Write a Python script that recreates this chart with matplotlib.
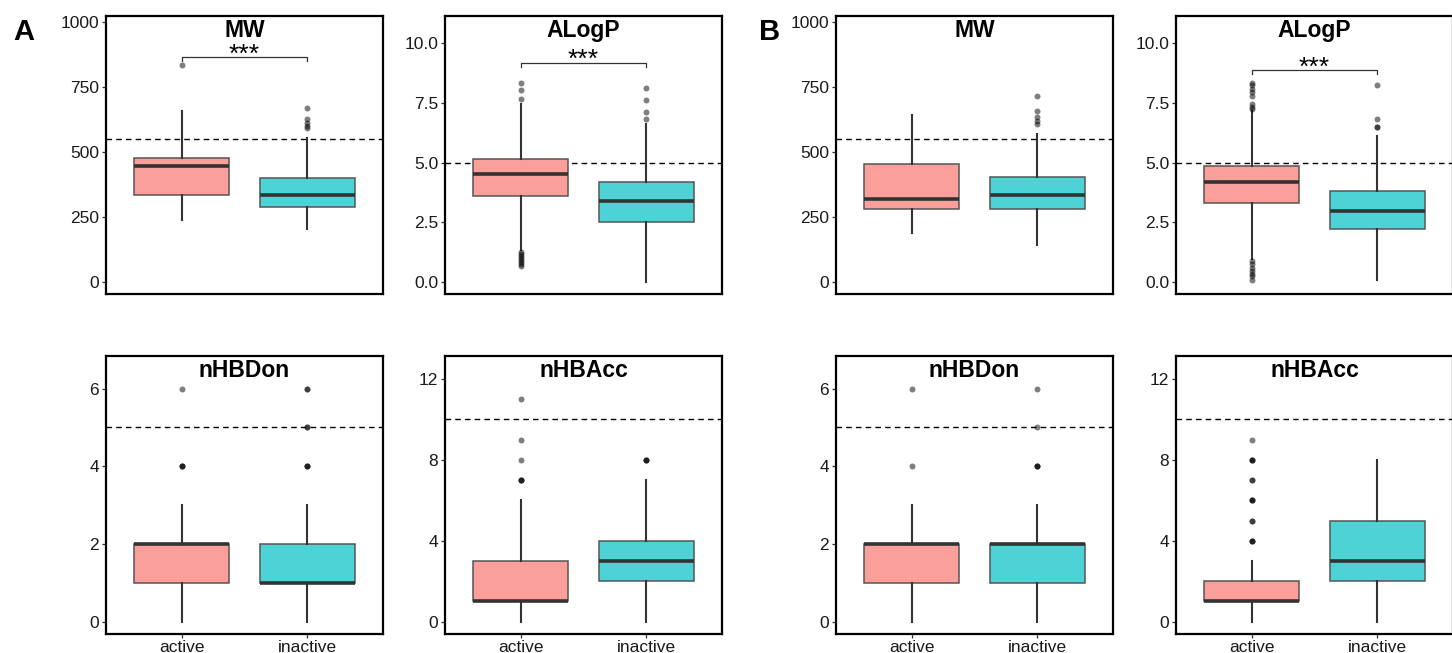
import matplotlib
matplotlib.use("Agg")
import matplotlib.pyplot as plt

plt.rcParams['font.family'] = ['Liberation Sans', 'DejaVu Sans']

groups = ["active", "inactive"]
descriptors = ["MW", "ALogP", "nHBDon", "nHBAcc"]
thresholds = [550, 5, 5, 10]
ylims = [(-46, 1023), (-0.5, 11.14), (-0.32, 6.84), (-0.61, 13.14)]
yticks = [[0, 250, 500, 750, 1000],
          [0.0, 2.5, 5.0, 7.5, 10.0],
          [0, 2, 4, 6],
          [0, 4, 8, 12]]
ytick_labels = [["0", "250", "500", "750", "1000"],
                ["0.0", "2.5", "5.0", "7.5", "10.0"],
                ["0", "2", "4", "6"],
                ["0", "4", "8", "12"]]

# five-number summaries [whisker low, q1, median, q3, whisker high] per group
A_MW = [[237, 335, 446, 478, 658], [205, 287, 333, 401, 555]]
A_ALogP = [[1.34, 3.60, 4.51, 5.14, 7.46], [0.01, 2.51, 3.38, 4.19, 6.62]]
A_nHBDon = [[0, 1, 2, 2, 3], [0, 1, 1, 2, 3]]
A_nHBAcc = [[0, 1, 1, 3, 6], [0, 2, 3, 4, 7]]
B_MW = [[190, 282, 321, 455, 641], [143, 282, 333, 405, 568]]
B_ALogP = [[0.98, 3.31, 4.17, 4.85, 7.15], [0.07, 2.22, 2.99, 3.82, 6.11]]
B_nHBDon = [[0, 1, 2, 2, 3], [0, 1, 2, 2, 3]]
B_nHBAcc = [[0, 1, 1, 2, 3], [0, 2, 3, 5, 8]]

# outliers per group (repeated values = overlapping points)
A_MW_out = [[835], [670, 627, 610, 600, 591]]
A_ALogP_out = [[8.32, 8.04, 7.65, 1.27, 1.18, 1.1, 1.0, 0.92, 0.85, 0.75, 0.66],
               [8.13, 7.62, 7.13, 6.83]]
A_nHBDon_out = [[6, 4, 4, 4], [6, 6, 5, 5, 4, 4, 4]]
A_nHBAcc_out = [[11, 9, 8, 7, 7, 7], [8, 8, 8]]
B_MW_out = [[], [715, 658, 633, 620, 608]]
B_ALogP_out = [[8.35, 8.25, 8.1, 7.95, 7.8, 7.45, 7.35, 7.25, 0.9, 0.75, 0.6, 0.45, 0.35, 0.25, 0.1],
               [8.26, 6.83, 6.48, 6.48]]
B_nHBDon_out = [[6, 4], [6, 5, 4, 4, 4]]
B_nHBAcc_out = [[9, 8, 8, 8, 7, 7, 6, 6, 6, 5, 5, 4, 4, 4], []]

# significance brackets: descriptor -> (label, bracket height)
A_sig = {"MW": ("***", 866), "ALogP": ("***", 9.19)}
B_sig = {"ALogP": ("***", 8.88)}

sets = {
    "A": ([A_MW, A_ALogP, A_nHBDon, A_nHBAcc],
          [A_MW_out, A_ALogP_out, A_nHBDon_out, A_nHBAcc_out], A_sig),
    "B": ([B_MW, B_ALogP, B_nHBDon, B_nHBAcc],
          [B_MW_out, B_ALogP_out, B_nHBDon_out, B_nHBAcc_out], B_sig),
}

colors = ["#FA9F99", "#4DD2D6"]
W, H = 1452, 653
fig = plt.figure(figsize=(W / 100, H / 100), dpi=100)

col_left = {"A": [106, 445], "B": [836, 1176]}
row_top = [16, 356]
pw, ph = 277, 278
label_x = {"A": 24, "B": 770}

for key, (summaries, outs, sig) in sets.items():
    fig.text(label_x[key] / W, 1 - 32 / H, key, fontsize=21, fontweight='bold',
             ha='center', va='center')
    for i, name in enumerate(descriptors):
        r, c = divmod(i, 2)
        left = col_left[key][c]
        top = row_top[r]
        ax = fig.add_axes([left / W, 1 - (top + ph) / H, pw / W, ph / H])
        stats = []
        for g in range(2):
            lo, q1, med, q3, hi = summaries[i][g]
            stats.append(dict(whislo=lo, q1=q1, med=med, q3=q3, whishi=hi,
                              fliers=outs[i][g], label=groups[g]))
        bp = ax.bxp(stats, positions=[1, 2], widths=0.75, patch_artist=True,
                    showcaps=False,
                    boxprops=dict(edgecolor="#555555", linewidth=1.1),
                    whiskerprops=dict(color="#333333", linewidth=1.5),
                    medianprops=dict(color="#333333", linewidth=2.6),
                    flierprops=dict(marker='o', markerfacecolor='black',
                                    markeredgecolor='none', markersize=4.3,
                                    alpha=0.5))
        for patch, col in zip(bp['boxes'], colors):
            patch.set_facecolor(col)
        ax.axhline(thresholds[i], color='black', linestyle=(0, (4, 3)),
                   linewidth=1.0, zorder=0.5)
        ax.set_xlim(0.4, 2.6)
        ax.set_ylim(*ylims[i])
        ax.set_yticks(yticks[i])
        ax.set_yticklabels(ytick_labels[i])
        if r == 1:
            ax.set_xticks([1, 2])
            ax.set_xticklabels(groups)
            ax.tick_params(axis='x', length=3, width=0.9, color='#333333',
                           labelsize=12.5, labelcolor='#1a1a1a', pad=1)
        else:
            ax.set_xticks([])
        ax.tick_params(axis='y', length=3, width=0.9, color='#333333',
                       labelsize=12.5, labelcolor='#1a1a1a', pad=2)
        for s in ax.spines.values():
            s.set_linewidth(1.6)
            s.set_color('black')
        ax.text(0.5, 0.99, name, transform=ax.transAxes, ha='center', va='top',
                fontsize=16.5, fontweight='bold')
        if name in sig:
            label, yb = sig[name]
            y0, y1 = ax.get_ylim()
            span = y1 - y0
            tick = span * 0.015
            ax.plot([1, 1, 2, 2], [yb - tick, yb, yb, yb - tick], color='#333333',
                    linewidth=0.9)
            ax.text(1.5, yb - span * 0.035, label, ha='center', va='bottom',
                    fontsize=19)

fig.savefig("out.png", dpi=100)
